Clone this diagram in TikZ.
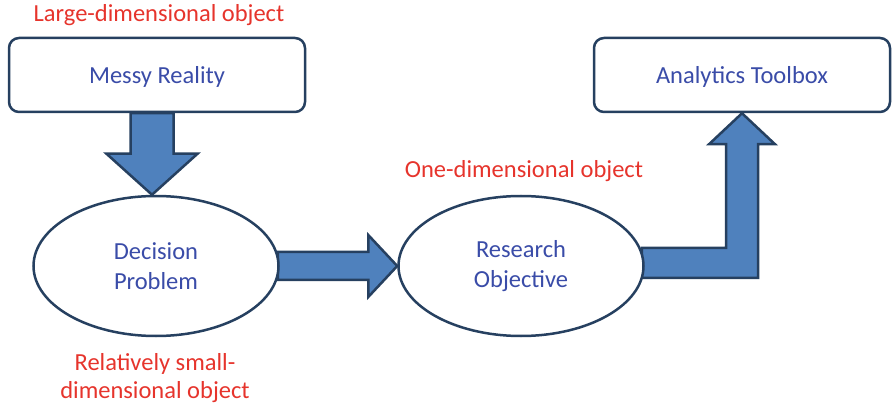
\documentclass[tikz,border=0pt]{standalone}
\usepackage{fontspec}
\setmainfont{Carlito}
\usetikzlibrary{calc,backgrounds,shapes.geometric}

\definecolor{labelred}{RGB}{230,52,44}
\definecolor{textblue}{RGB}{58,76,168}
\definecolor{edgeblue}{RGB}{38,64,96}
\definecolor{arrowblue}{RGB}{79,129,189}

\tikzset{
  box/.style={draw=edgeblue, line width=2.5pt, rounded corners=10pt, fill=white,
    minimum width=296pt, minimum height=74pt, text=textblue, text depth=0pt,
    font=\fontsize{24.5}{30}\selectfont},
  oval/.style={ellipse, draw=edgeblue, line width=2.5pt, fill=white, inner sep=0pt,
    minimum width=245pt, minimum height=140pt, text=textblue, align=center,
    font=\fontsize{24.5}{30}\selectfont},
  note/.style={text=labelred, align=center, anchor=base, inner sep=0pt,
    font=\fontsize{24.5}{28}\selectfont},
  blockarrow/.style={draw=edgeblue, line width=2.5pt, fill=arrowblue, line join=miter}
}

\begin{document}
\begin{tikzpicture}[x=1pt, y=-1pt]
    \useasboundingbox (0,0) rectangle (892,406);

    % Boxes
    \node[box] (messy) at (157,75) {Messy Reality};
    \node[box] (toolbox) at (742,75) {Analytics Toolbox};

    % Ovals
    \node[oval] (decision) at (156,266) {Decision\\Problem};
    \node[oval] (research) at (521,266) {Research\\Objective};

    % Labels in red
    \node[note] (large) at (159,22) {Large-dimensional object};
    \node[note] (one) at (524,178) {One-dimensional object};
    \node[note] (small) at (155,398) {Relatively small-\\dimensional object};

    % Block arrows behind the shapes
    \begin{scope}[on background layer]
        % down: messy -> decision
        \coordinate (dtip) at ($(decision.north)+(-4,0)$);
        \coordinate (dtop) at (messy.south -| dtip);
        \draw[blockarrow] ($(dtop)+(-21.5,0)$) -- ($(dtip)+(-21.5,-41)$)
            -- ($(dtip)+(-45.5,-41)$) -- (dtip) -- ($(dtip)+(45.5,-41)$)
            -- ($(dtip)+(21.5,-41)$) -- ($(dtop)+(21.5,0)$) -- cycle;

        % right: decision -> research
        \coordinate (rtip) at (research.west);
        \coordinate (rtail) at (decision.east |- rtip);
        \draw[blockarrow] ($(rtail)+(-2,-14)$) -- ($(rtip)+(-29,-14)$)
            -- ($(rtip)+(-29,-31)$) -- (rtip) -- ($(rtip)+(-29,31)$)
            -- ($(rtip)+(-29,14)$) -- ($(rtail)+(-2,14)$) -- cycle;

        % bent: research -> toolbox
        \coordinate (btip) at ($(toolbox.south)+(0,0)$);
        \coordinate (btail) at ($(research.east)+(-3,-3)$);
        \draw[blockarrow] ($(btail)+(0,-15)$) -- ($(btail -| btip)+(-16,-15)$)
            -- ($(btip)+(-16,31)$) -- ($(btip)+(-33,31)$) -- (btip)
            -- ($(btip)+(33,31)$) -- ($(btip)+(16,31)$)
            -- ($(btail -| btip)+(16,15)$) -- ($(btail)+(0,15)$) -- cycle;
    \end{scope}
\end{tikzpicture}
\end{document}
